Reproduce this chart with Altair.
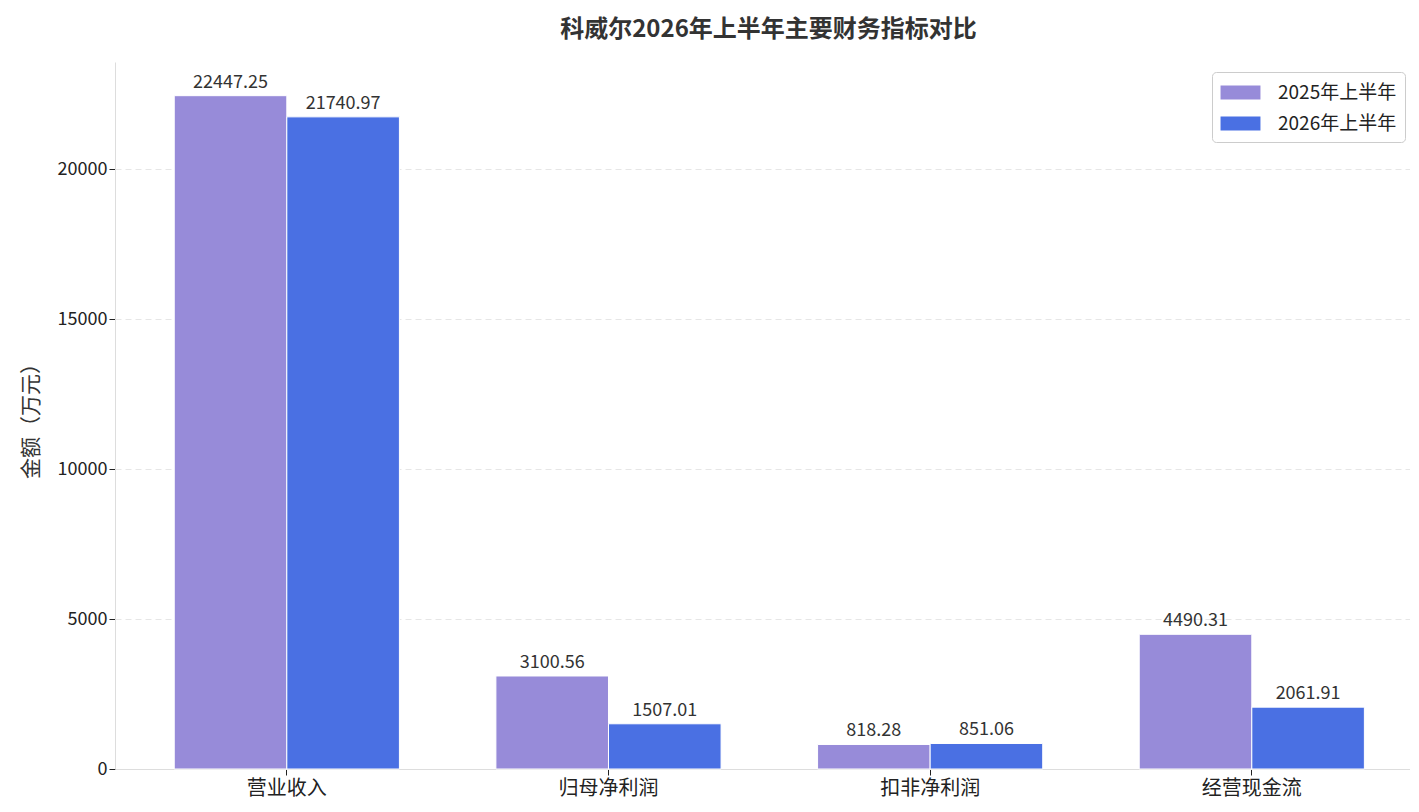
import altair as alt
import pandas as pd

categories = ["营业收入", "归母净利润", "扣非净利润", "经营现金流"]
series = ["2025年上半年", "2026年上半年"]
v2025 = [22447.25, 3100.56, 818.28, 4490.31]
v2026 = [21740.97, 1507.01, 851.06, 2061.91]
colors = ["#978BD9", "#4A70E3"]
y_ticks = [0, 5000, 10000, 15000, 20000]

rows = []
for c, a, b in zip(categories, v2025, v2026):
    rows.append({"指标": c, "期间": series[0], "金额": a})
    rows.append({"指标": c, "期间": series[1], "金额": b})
df = pd.DataFrame(rows)

FONT = "Noto Sans CJK SC"

x = alt.X("指标:N", sort=categories, title=None,
          scale=alt.Scale(paddingInner=0.3, paddingOuter=0.163, align=0.565),
          axis=alt.Axis(labelAngle=0, labelFontSize=20, labelColor="#222",
                        labelFont=FONT, domainColor="#dddddd", tickColor="#222",
                        tickSize=6, labelPadding=3, grid=False))
xo = alt.XOffset("期间:N", sort=series)
y = alt.Y("金额:Q", title="金额（万元）",
          scale=alt.Scale(domain=[0, 23570], nice=False),
          axis=alt.Axis(values=y_ticks, format="d", labelFontSize=18, labelColor="#222",
                        labelFont=FONT, titleFont=FONT, titleFontSize=21,
                        titleFontWeight="normal", titleColor="#333", titlePadding=16,
                        domainColor="#dddddd", tickColor="#222", tickSize=6,
                        grid=True, gridDash=[6, 4], gridColor="#e6e6e6", gridWidth=1))

color = alt.Color("期间:N", sort=series,
                  scale=alt.Scale(domain=series, range=colors),
                  legend=alt.Legend(title=None, orient="none", legendX=1097, legendY=10,
                                    labelFontSize=19, labelFont=FONT, labelColor="#222",
                                    symbolType="M-1.63,-0.57L1.63,-0.57L1.63,0.57L-1.63,0.57Z",
                                    symbolSize=600, symbolStrokeWidth=0, symbolOpacity=1,
                                    symbolOffset=8, strokeColor="#cccccc", cornerRadius=4,
                                    padding=8, rowPadding=8, labelOffset=25, fillColor="white"))

bars = alt.Chart(df).mark_bar(stroke="white", strokeWidth=1, opacity=1).encode(
    x=x, xOffset=xo, y=y, color=color
)

labels = alt.Chart(df).mark_text(dy=-13, fontSize=18, font=FONT, color="#333").encode(
    x=x, xOffset=xo, y=y, text=alt.Text("金额:Q", format=".2f")
)

chart = (bars + labels).properties(
    width=1295, height=707,
    title=alt.Title("科威尔2026年上半年主要财务指标对比", fontSize=24, font=FONT,
                    fontWeight="bold", color="#333", offset=20, dx=6),
    padding={"left": 12, "top": 10, "right": 0, "bottom": 2},
).configure_view(stroke=None)

chart.save("out.html", embed_options={"renderer": "svg", "actions": False})
